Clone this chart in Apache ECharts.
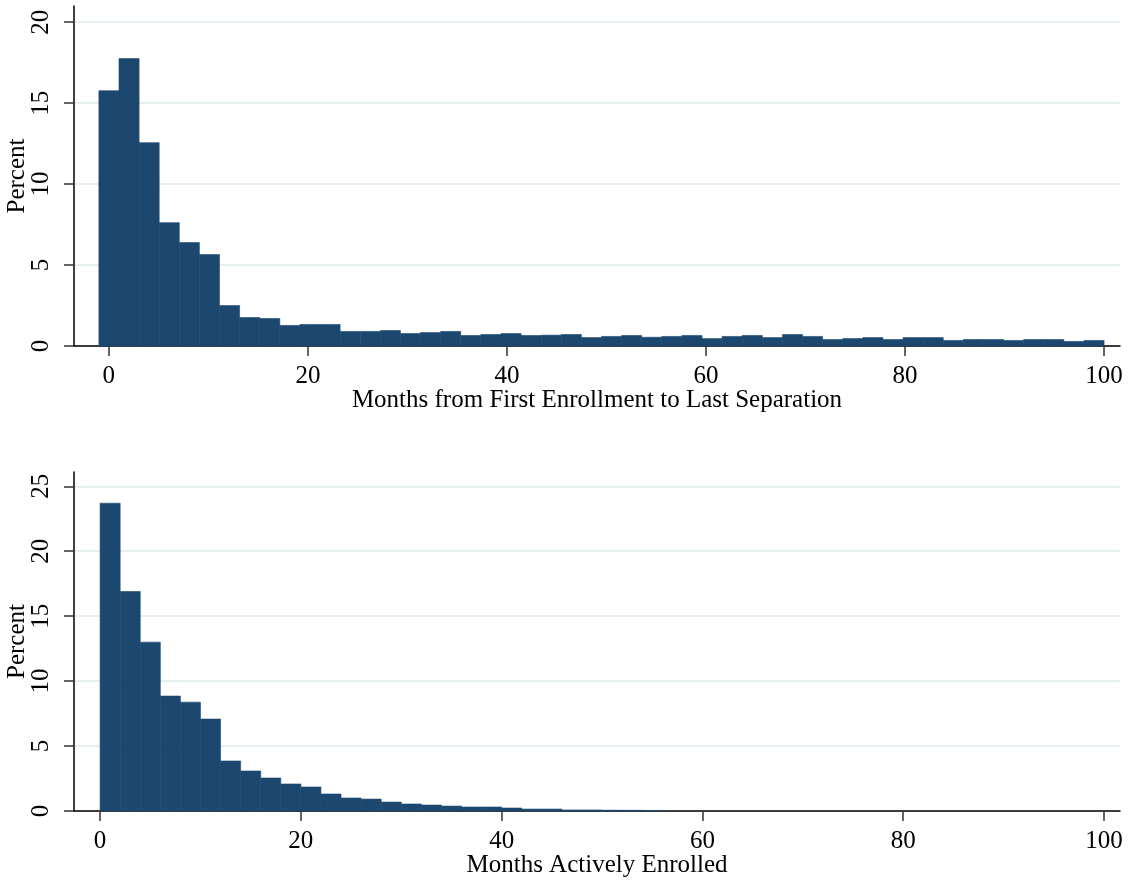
<!DOCTYPE html>
<html>
<head>
<meta charset="utf-8">
<script src="https://cdn.jsdelivr.net/npm/echarts@6/dist/echarts.min.js"></script>
<style>
  html, body { margin: 0; padding: 0; background: #fff; }
  #chart { width: 1129px; height: 881px; }
</style>
</head>
<body>
<div id="chart"></div>
<script>
// top histogram: months from first enrollment to last separation (50 bins, -1..100)
var topBinStart = -1;
var topBinWidth = 2.02;
var topValues = [15.77, 17.75, 12.56, 7.62, 6.39, 5.65, 2.5, 1.76, 1.7, 1.27,
  1.33, 1.33, 0.9, 0.9, 0.96, 0.77, 0.83, 0.9, 0.65, 0.71,
  0.77, 0.65, 0.67, 0.71, 0.52, 0.59, 0.65, 0.54, 0.59, 0.65,
  0.46, 0.59, 0.65, 0.52, 0.71, 0.59, 0.4, 0.46, 0.52, 0.4,
  0.52, 0.52, 0.34, 0.4, 0.4, 0.34, 0.4, 0.4, 0.28, 0.34];

// bottom histogram: months actively enrolled (bins of 2 from 0)
var bottomBinStart = 0;
var bottomBinWidth = 2;
var bottomValues = [23.7, 16.9, 13.0, 8.85, 8.38, 7.08, 3.85, 3.08, 2.54, 2.08,
  1.85, 1.31, 1.0, 0.92, 0.69, 0.54, 0.46, 0.38, 0.31, 0.31,
  0.23, 0.15, 0.15, 0.08, 0.08, 0.06, 0.05, 0.04];

var xTicks = [0, 20, 40, 60, 80, 100];
var topYTicks = [0, 5, 10, 15, 20];
var bottomYTicks = [0, 5, 10, 15, 20, 25];

var barColor = '#1c4870';
var font = 'Liberation Serif';

function toBins(start, width, values) {
  return values.map(function (v, i) {
    return [start + i * width, start + (i + 1) * width, v];
  });
}

function renderBar(params, api) {
  var p0 = api.coord([api.value(0), api.value(2)]);
  var p1 = api.coord([api.value(1), 0]);
  return {
    type: 'rect',
    shape: { x: p0[0], y: p0[1], width: p1[0] - p0[0], height: p1[1] - p0[1] },
    style: { fill: barColor, stroke: barColor, lineWidth: 0.6 }
  };
}

function xAxisOf(idx, min, max, name) {
  return {
    type: 'value', gridIndex: idx, min: min, max: max,
    name: name, nameLocation: 'middle', nameGap: 42, nameMoveOverlap: false,
    nameTextStyle: { fontFamily: font, fontSize: 25, color: '#000' },
    axisLine: { show: true, onZero: false, lineStyle: { color: '#000', width: 1.5 } },
    axisTick: { show: true, customValues: xTicks, length: 10, lineStyle: { color: '#333', width: 1.5 } },
    axisLabel: { customValues: xTicks, margin: 18, fontFamily: font, fontSize: 25, color: '#000' },
    splitLine: { show: false }
  };
}

function yAxisOf(idx, max, ticks) {
  return {
    type: 'value', gridIndex: idx, min: 0, max: max,
    name: 'Percent', nameLocation: 'middle', nameGap: 44, nameRotate: 90, nameMoveOverlap: false,
    nameTextStyle: { fontFamily: font, fontSize: 25, color: '#000' },
    axisLine: { show: true, onZero: false, lineStyle: { color: '#000', width: 1.5 } },
    axisTick: { show: true, customValues: ticks, length: 10, lineStyle: { color: '#333', width: 1.5 } },
    axisLabel: { customValues: ticks, rotate: 90, margin: 20, fontFamily: font, fontSize: 25, color: '#000' },
    splitLine: { show: true, lineStyle: { color: '#e6eef2', width: 2 } }
  };
}

var chart = echarts.init(document.getElementById('chart'));
chart.setOption({
  animation: false,
  backgroundColor: '#fff',
  grid: [
    { left: 74, right: 9, top: 6, bottom: 535, outerBoundsMode: 'none', containLabel: false },
    { left: 74, right: 9, top: 472, bottom: 70, outerBoundsMode: 'none', containLabel: false }
  ],
  xAxis: [
    xAxisOf(0, -3.5, 101.6, 'Months from First Enrollment to Last Separation'),
    xAxisOf(1, -2.6, 101.6, 'Months Actively Enrolled')
  ],
  yAxis: [
    yAxisOf(0, 21, topYTicks),
    yAxisOf(1, 26.1, bottomYTicks)
  ],
  series: [
    {
      type: 'custom', xAxisIndex: 0, yAxisIndex: 0,
      renderItem: renderBar,
      encode: { x: [0, 1], y: 2 },
      data: toBins(topBinStart, topBinWidth, topValues)
    },
    {
      type: 'custom', xAxisIndex: 1, yAxisIndex: 1,
      renderItem: renderBar,
      encode: { x: [0, 1], y: 2 },
      data: toBins(bottomBinStart, bottomBinWidth, bottomValues)
    }
  ]
});
</script>
</body>
</html>
